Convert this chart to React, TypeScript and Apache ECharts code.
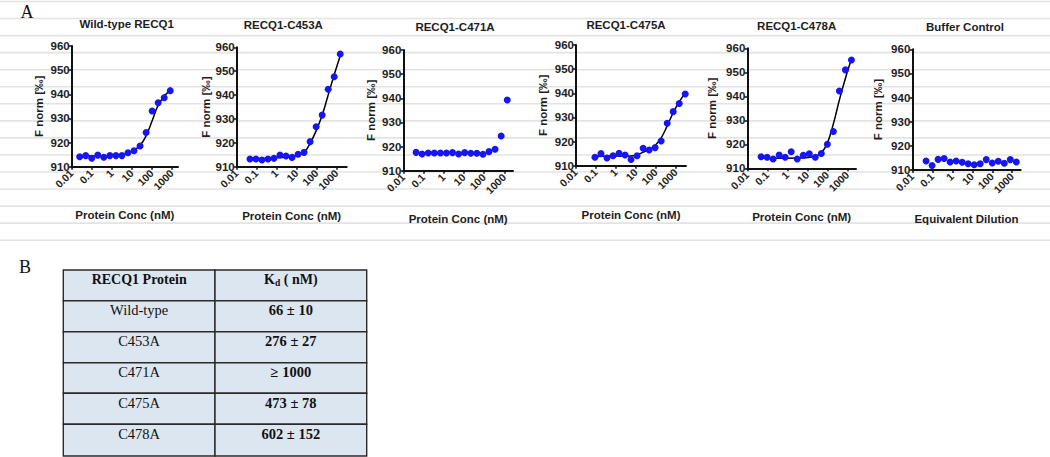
import React, { useEffect, useRef } from 'react';
import * as echarts from 'echarts';

// ---------- data ----------
const panelTitles = ['Wild-type RECQ1', 'RECQ1-C453A', 'RECQ1-C471A', 'RECQ1-C475A', 'RECQ1-C478A', 'Buffer Control'];
const xAxisTitles = ['Protein Conc (nM)', 'Protein Conc (nM)', 'Protein Conc (nM)', 'Protein Conc (nM)', 'Protein Conc (nM)', 'Equivalent Dilution'];
const yAxisTitle = 'F norm [‰]';
const xTickValues = [0.01, 0.1, 1, 10, 100, 1000];
const xTickLabels = ['0.01', '0.1', '1', '10', '100', '1000'];
const yMin = 910;
const yMax = 960;
const yStep = 10;

const wtConc = [0.025, 0.05, 0.1, 0.2, 0.4, 0.8, 1.6, 3.2, 6.4, 12.8, 25.6, 51.3, 102.5, 205, 410, 820];
const wtF = [914.1, 914.6, 913.5, 914.8, 913.9, 914.6, 914.6, 914.6, 915.8, 916.6, 918.6, 924.2, 933.1, 936.5, 938.6, 941.5];
const wtFitConc = [0.025, 1, 5, 12.8, 25.6, 51.3, 102.5, 205, 410, 820];
const wtFitF = [914.4, 914.5, 915.2, 916.8, 918.8, 922.8, 929.0, 935.5, 939.2, 941.6];

const c453Conc = [0.046, 0.092, 0.183, 0.366, 0.73, 1.46, 2.93, 5.86, 11.7, 23.4, 46.9, 93.8, 187.5, 375, 750, 1500];
const c453F = [913.2, 913.2, 912.8, 913.2, 913.5, 914.9, 914.5, 913.9, 915.2, 916.0, 920.5, 926.7, 931.6, 942.4, 947.7, 957.2];
const c453FitConc = [0.046, 2, 8, 23.4, 46.9, 93.8, 187.5, 375, 750, 1500];
const c453FitF = [913.4, 913.8, 914.5, 916.0, 919.8, 925.0, 931.5, 940.0, 948.5, 956.5];

const c471Conc = [0.043, 0.085, 0.171, 0.342, 0.684, 1.37, 2.73, 5.47, 10.9, 21.9, 43.8, 87.5, 175, 350, 700, 1400];
const c471F = [917.6, 916.9, 917.3, 917.3, 917.3, 917.3, 917.5, 916.9, 917.5, 917.2, 917.2, 916.8, 917.9, 918.9, 924.4, 939.3];

const c475Conc = [0.0885, 0.177, 0.354, 0.708, 1.42, 2.83, 5.66, 11.3, 22.7, 45.3, 90.6, 181, 363, 725, 1450, 2900];
const c475F = [913.5, 915.0, 913.2, 914.1, 915.1, 914.4, 912.6, 914.1, 917.2, 916.5, 917.5, 920.2, 927.6, 932.4, 935.8, 939.7];
const c475FitConc = [0.0885, 1, 5.66, 11.3, 22.7, 45.3, 90.6, 181, 363, 725, 1450, 2900];
const c475FitF = [913.8, 914.0, 914.0, 914.5, 915.6, 916.8, 918.4, 921.5, 926.5, 932.0, 936.5, 940.0];

const c478Conc = [0.0488, 0.0977, 0.195, 0.391, 0.781, 1.56, 3.13, 6.25, 12.5, 25, 50, 100, 200, 400, 800, 1600];
const c478F = [914.8, 914.6, 913.9, 915.5, 914.6, 916.9, 913.9, 915.4, 916.0, 914.6, 916.2, 920.0, 925.3, 942.2, 951.0, 955.1];
const c478FitConc = [0.0488, 5, 20, 50, 100, 200, 400, 800, 1600];
const c478FitF = [914.2, 914.3, 914.8, 916.5, 920.5, 928.5, 938.5, 947.5, 955.5];

const bufConc = [0.0488, 0.0977, 0.195, 0.391, 0.781, 1.56, 3.13, 6.25, 12.5, 25, 50, 100, 200, 400, 800, 1600];
const bufF = [913.7, 911.9, 914.4, 914.8, 913.3, 913.7, 913.2, 912.6, 912.2, 912.6, 914.3, 912.9, 913.6, 912.8, 914.3, 913.3];

const tableHeaders = ['RECQ1 Protein', 'Kd ( nM)'];
const tableProteins = ['Wild-type', 'C453A', 'C471A', 'C475A', 'C478A'];
const tableKd = ['66 ± 10', '276 ± 27', '≥ 1000', '473 ± 78', '602 ± 152'];

// ---------- layout ----------
const SANS = '"Liberation Sans", Arial, sans-serif';
const SERIF = '"Liberation Serif", "Times New Roman", serif';

const panelData = [
  { conc: wtConc, f: wtF, fitConc: wtFitConc, fitF: wtFitF },
  { conc: c453Conc, f: c453F, fitConc: c453FitConc, fitF: c453FitF },
  { conc: c471Conc, f: c471F, fitConc: null, fitF: null },
  { conc: c475Conc, f: c475F, fitConc: c475FitConc, fitF: c475FitF },
  { conc: c478Conc, f: c478F, fitConc: c478FitConc, fitF: c478FitF },
  { conc: bufConc, f: bufF, fitConc: null, fitF: null },
];

const layout = [
  { left: 71.7, top: 46, width: 106.3, height: 120.7, xMax: 2000, titleX: 126.7, titleY: 24, yGap: 27, xGap: 42 },
  { left: 236.7, top: 47.3, width: 110, height: 119.4, xMax: 3162, titleX: 283.3, titleY: 25, yGap: 25, xGap: 43.5 },
  { left: 403.3, top: 50, width: 109.7, height: 120.7, xMax: 2700, titleX: 455, titleY: 26.7, yGap: 26, xGap: 42 },
  { left: 576, top: 45, width: 110, height: 120.7, xMax: 3162, titleX: 626, titleY: 25, yGap: 27, xGap: 43 },
  { left: 747.3, top: 48.3, width: 108.7, height: 120, xMax: 2700, titleX: 796.7, titleY: 26, yGap: 29, xGap: 43 },
  { left: 912.3, top: 49.3, width: 108.4, height: 120.7, xMax: 2650, titleX: 965, titleY: 26.7, yGap: 28, xGap: 42.5 },
];

const zip = (a: number[], b: number[]) => a.map((v, i) => [v, b[i]]);

const fmtX = (v: number) => {
  const idx = xTickValues.findIndex((t) => Math.abs(Math.log10(t) - Math.log10(v)) < 1e-6);
  return idx >= 0 ? xTickLabels[idx] : String(v);
};

function buildOption() {
  const grid: any[] = [];
  const xAxis: any[] = [];
  const yAxis: any[] = [];
  const series: any[] = [];
  const graphic: any[] = [];

  // background ruled lines
  for (let k = 0; k < 15; k++) {
    const y = 1.5 + k * 17.05;
    graphic.push({
      type: 'line', z: -10, silent: true,
      shape: { x1: 0, y1: y, x2: 1050, y2: y },
      style: { stroke: '#e3e3e3', lineWidth: 1.6 },
    });
  }

  layout.forEach((L, i) => {
    grid.push({ left: L.left, top: L.top, width: L.width, height: L.height, containLabel: false });
    xAxis.push({
      type: 'log', logBase: 10, gridIndex: i, min: 0.01, max: L.xMax,
      name: xAxisTitles[i], nameLocation: 'middle', nameGap: L.xGap,
      nameTextStyle: { fontFamily: SANS, fontSize: 11.5, fontWeight: 'bold', color: '#1e1e1e' },
      axisLine: { show: true, lineStyle: { color: '#111', width: 2 } },
      axisTick: { show: true, length: 3, customValues: xTickValues, lineStyle: { color: '#111', width: 1.5 } },
      axisLabel: {
        customValues: xTickValues, rotate: 45, margin: 5, formatter: fmtX,
        fontFamily: SANS, fontSize: 10.5, fontWeight: 'bold', color: '#1e1e1e',
      },
      splitLine: { show: false },
      minorTick: { show: false },
    });
    yAxis.push({
      type: 'value', gridIndex: i, min: yMin, max: yMax, interval: yStep,
      name: yAxisTitle, nameLocation: 'middle', nameGap: L.yGap,
      nameTextStyle: { fontFamily: SANS, fontSize: 11.5, fontWeight: 'bold', color: '#1e1e1e' },
      axisLine: { show: true, lineStyle: { color: '#111', width: 2 } },
      axisTick: { show: true, length: 3, lineStyle: { color: '#111', width: 1.5 } },
      axisLabel: { margin: 2, fontFamily: SANS, fontSize: 11.5, fontWeight: 'bold', color: '#1e1e1e' },
      splitLine: { show: false },
    });
    const d = panelData[i];
    if (d.fitConc && d.fitF) {
      series.push({
        type: 'line', xAxisIndex: i, yAxisIndex: i, z: 2,
        data: zip(d.fitConc, d.fitF), smooth: 0.4, showSymbol: false, symbol: 'none',
        lineStyle: { color: '#000', width: 1.5 }, silent: true,
      });
    }
    series.push({
      type: 'scatter', xAxisIndex: i, yAxisIndex: i, z: 3,
      data: zip(d.conc, d.f), symbolSize: 7,
      itemStyle: { color: '#1616f2', opacity: 1 },
    });
    graphic.push({
      type: 'text', x: L.titleX, y: L.titleY,
      style: { text: panelTitles[i], align: 'center', verticalAlign: 'middle', font: `bold 11.5px ${SANS}`, fill: '#1e1e1e' },
    });
  });

  // panel letters
  graphic.push({ type: 'text', x: 27, y: 11.5, style: { text: 'A', align: 'center', verticalAlign: 'middle', font: `18px ${SERIF}`, fill: '#111' } });
  graphic.push({ type: 'text', x: 25, y: 267, style: { text: 'B', align: 'center', verticalAlign: 'middle', font: `18px ${SERIF}`, fill: '#111' } });

  // table
  const colX = [63.3, 215, 366.7];
  const rowY = [270, 300.7, 331.7, 362.7, 393.3, 424.3, 456];
  for (let r = 0; r < 6; r++) {
    for (let c = 0; c < 2; c++) {
      graphic.push({
        type: 'rect', z: 1,
        shape: { x: colX[c], y: rowY[r], width: colX[c + 1] - colX[c], height: rowY[r + 1] - rowY[r] },
        style: { fill: '#dce6f1', stroke: '#2a2a2a', lineWidth: 1.4 },
      });
    }
  }
  const c1 = (colX[0] + colX[1]) / 2;
  const c2 = (colX[1] + colX[2]) / 2;
  graphic.push({ type: 'text', z: 2, x: c1, y: rowY[0] + 9.5, style: { text: tableHeaders[0], align: 'center', verticalAlign: 'middle', font: `bold 14px ${SERIF}`, fill: '#111' } });
  graphic.push({
    type: 'text', z: 2, x: c2, y: rowY[0] + 9.5,
    style: {
      text: '{a|K}{s|d}{a| ( nM)}', align: 'center', verticalAlign: 'middle', fill: '#111',
      rich: {
        a: { fontFamily: SERIF, fontSize: 14, fontWeight: 'bold', fill: '#111' },
        s: { fontFamily: SERIF, fontSize: 9.5, fontWeight: 'bold', fill: '#111', padding: [7, 0, 0, 0] },
      },
    },
  });
  tableProteins.forEach((p, k) => {
    graphic.push({ type: 'text', z: 2, x: c1, y: rowY[k + 1] + 9.5, style: { text: p, align: 'center', verticalAlign: 'middle', font: `14.5px ${SERIF}`, fill: '#111' } });
    graphic.push({ type: 'text', z: 2, x: c2, y: rowY[k + 1] + 9.5, style: { text: tableKd[k], align: 'center', verticalAlign: 'middle', font: `bold 14.5px ${SERIF}`, fill: '#111' } });
  });

  return {
    animation: false,
    backgroundColor: '#ffffff',
    grid, xAxis, yAxis, series, graphic,
  };
}

export default function App() {
  const ref = useRef<HTMLDivElement>(null);
  useEffect(() => {
    if (!ref.current) return;
    const chart = echarts.init(ref.current, null, { renderer: 'svg' });
    chart.setOption(buildOption());
    return () => chart.dispose();
  }, []);
  return (
    <div
      ref={ref}
      style={{ position: 'fixed', left: 0, top: 0, width: 1050, height: 457 }}
    />
  );
}
